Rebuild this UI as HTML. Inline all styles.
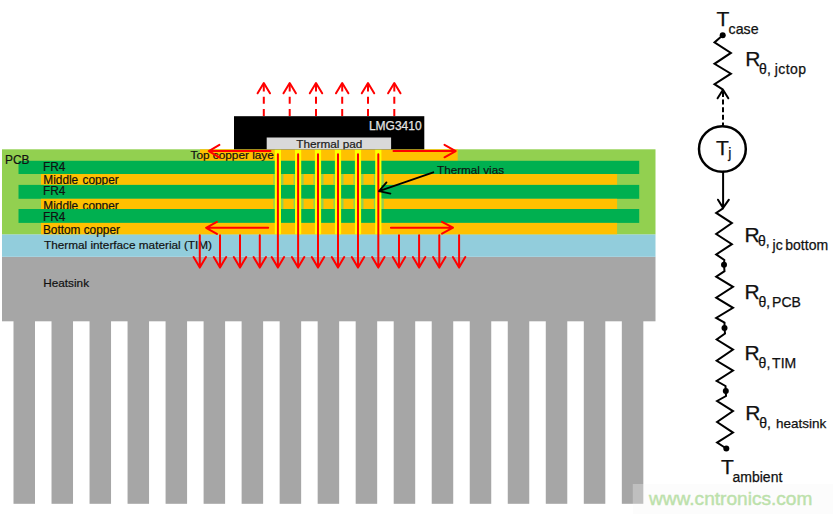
<!DOCTYPE html>
<html><head><meta charset="utf-8"><style>
html,body{margin:0;padding:0;background:#fff;}
svg{display:block;}
text{font-family:"Liberation Sans",sans-serif;}
</style></head><body>
<svg width="833" height="514" viewBox="0 0 833 514">
<rect width="833" height="514" fill="#fff"/>
<rect x="2" y="256.8" width="653.5" height="64.5" fill="#A6A6A6"/>
<rect x="13.50" y="320" width="21.5" height="183.8" fill="#A6A6A6"/>
<rect x="51.52" y="320" width="21.5" height="183.8" fill="#A6A6A6"/>
<rect x="89.54" y="320" width="21.5" height="183.8" fill="#A6A6A6"/>
<rect x="127.56" y="320" width="21.5" height="183.8" fill="#A6A6A6"/>
<rect x="165.58" y="320" width="21.5" height="183.8" fill="#A6A6A6"/>
<rect x="203.60" y="320" width="21.5" height="183.8" fill="#A6A6A6"/>
<rect x="241.62" y="320" width="21.5" height="183.8" fill="#A6A6A6"/>
<rect x="279.64" y="320" width="21.5" height="183.8" fill="#A6A6A6"/>
<rect x="317.66" y="320" width="21.5" height="183.8" fill="#A6A6A6"/>
<rect x="355.68" y="320" width="21.5" height="183.8" fill="#A6A6A6"/>
<rect x="393.70" y="320" width="21.5" height="183.8" fill="#A6A6A6"/>
<rect x="431.72" y="320" width="21.5" height="183.8" fill="#A6A6A6"/>
<rect x="469.74" y="320" width="21.5" height="183.8" fill="#A6A6A6"/>
<rect x="507.76" y="320" width="21.5" height="183.8" fill="#A6A6A6"/>
<rect x="545.78" y="320" width="21.5" height="183.8" fill="#A6A6A6"/>
<rect x="583.80" y="320" width="21.5" height="183.8" fill="#A6A6A6"/>
<rect x="621.82" y="320" width="21.5" height="183.8" fill="#A6A6A6"/>
<text x="43.3" y="286.6" font-size="11.75" font-family="Liberation Sans, sans-serif" fill="#111" stroke="#111" stroke-width="0.2">Heatsink</text>
<rect x="2" y="234.3" width="653.5" height="22.5" fill="#92CDDC"/>
<text x="44" y="248.9" font-size="11.78" font-family="Liberation Sans, sans-serif" fill="#111" stroke="#111" stroke-width="0.2">Thermal interface material (TIM)</text>
<rect x="2" y="149.3" width="653.5" height="85" fill="#92D050"/>

<rect x="200" y="149.3" width="257.7" height="11.5" fill="#FFC000"/>
<text x="190.5" y="158.8" font-size="11.8" font-family="Liberation Sans, sans-serif" fill="#111" stroke="#111" stroke-width="0.2">Top copper laye</text>
<rect x="18.5" y="160.8" width="620.70" height="13.20" fill="#00B050"/>
<clipPath id="cp0"><rect x="0" y="160.8" width="700" height="13.20"/></clipPath>
<text x="43.0" y="171.2" font-size="11.85" font-family="Liberation Sans, sans-serif" fill="#111" stroke="#111" stroke-width="0.2" word-spacing="1" clip-path="url(#cp0)">FR4</text>
<rect x="41" y="174.0" width="576.10" height="10.90" fill="#FFC000"/>
<clipPath id="cp1"><rect x="0" y="174.0" width="700" height="10.90"/></clipPath>
<text x="43.3" y="184.0" font-size="11.85" font-family="Liberation Sans, sans-serif" fill="#111" stroke="#111" stroke-width="0.2" word-spacing="1" clip-path="url(#cp1)">Middle copper</text>
<rect x="18.5" y="184.9" width="620.70" height="13.90" fill="#00B050"/>
<clipPath id="cp2"><rect x="0" y="184.9" width="700" height="13.90"/></clipPath>
<text x="43.0" y="195.4" font-size="11.85" font-family="Liberation Sans, sans-serif" fill="#111" stroke="#111" stroke-width="0.2" word-spacing="1" clip-path="url(#cp2)">FR4</text>
<rect x="41" y="198.8" width="576.10" height="10.20" fill="#FFC000"/>
<clipPath id="cp3"><rect x="0" y="198.8" width="700" height="10.20"/></clipPath>
<text x="43.3" y="209.9" font-size="11.85" font-family="Liberation Sans, sans-serif" fill="#111" stroke="#111" stroke-width="0.2" word-spacing="1" clip-path="url(#cp3)">Middle copper</text>
<rect x="18.5" y="209.0" width="620.70" height="13.90" fill="#00B050"/>
<clipPath id="cp4"><rect x="0" y="209.0" width="700" height="13.90"/></clipPath>
<text x="43.0" y="220.6" font-size="11.85" font-family="Liberation Sans, sans-serif" fill="#111" stroke="#111" stroke-width="0.2" word-spacing="1" clip-path="url(#cp4)">FR4</text>
<rect x="41" y="222.9" width="576.10" height="11.40" fill="#FFC000"/>
<text x="42.9" y="233.7" font-size="11.85" font-family="Liberation Sans, sans-serif" fill="#111" stroke="#111" stroke-width="0.2">Bottom copper</text>
<rect x="273.40" y="174.0" width="10" height="10.90" fill="#92D050"/>
<rect x="273.40" y="198.8" width="10" height="10.20" fill="#92D050"/>
<rect x="293.60" y="174.0" width="10" height="10.90" fill="#92D050"/>
<rect x="293.60" y="198.8" width="10" height="10.20" fill="#92D050"/>
<rect x="313.50" y="174.0" width="10" height="10.90" fill="#92D050"/>
<rect x="313.50" y="198.8" width="10" height="10.20" fill="#92D050"/>
<rect x="333.50" y="174.0" width="10" height="10.90" fill="#92D050"/>
<rect x="333.50" y="198.8" width="10" height="10.20" fill="#92D050"/>
<rect x="353.50" y="174.0" width="10" height="10.90" fill="#92D050"/>
<rect x="353.50" y="198.8" width="10" height="10.20" fill="#92D050"/>
<rect x="373.80" y="174.0" width="10" height="10.90" fill="#92D050"/>
<rect x="373.80" y="198.8" width="10" height="10.20" fill="#92D050"/>
<rect x="274.80" y="149.3" width="6.2" height="85" fill="#FFFF00"/>
<rect x="295.00" y="149.3" width="6.2" height="85" fill="#FFFF00"/>
<rect x="314.90" y="149.3" width="6.2" height="85" fill="#FFFF00"/>
<rect x="334.90" y="149.3" width="6.2" height="85" fill="#FFFF00"/>
<rect x="354.90" y="149.3" width="6.2" height="85" fill="#FFFF00"/>
<rect x="375.20" y="149.3" width="6.2" height="85" fill="#FFFF00"/>
<text x="5" y="163.5" font-size="11.9" font-family="Liberation Sans, sans-serif" fill="#111" stroke="#111" stroke-width="0.2">PCB</text>
<rect x="234" y="116.2" width="190.3" height="33.1" fill="#000"/>
<rect x="266.7" y="137.5" width="124.4" height="11.8" fill="#D9D9D9"/>
<clipPath id="cpp"><rect x="266.7" y="137.5" width="124.4" height="11.8"/></clipPath>
<text x="296.3" y="148.2" font-size="11.78" font-family="Liberation Sans, sans-serif" fill="#222" stroke="#111" stroke-width="0.2" clip-path="url(#cpp)">Thermal pad</text>
<text x="368.9" y="129.8" font-size="12" font-family="Liberation Sans, sans-serif" fill="#e4e4e4" stroke="#e4e4e4" stroke-width="0.25">LMG3410</text>
<text x="437" y="174.4" font-size="11.72" font-family="Liberation Sans, sans-serif" fill="#111" stroke="#111" stroke-width="0.2">Thermal vias</text>
<path d="M199.8 235.2V267.6M193.60 257.10L199.8 267.6L206.00 257.10" stroke="#FF0000" stroke-width="2" fill="none" stroke-linecap="round" stroke-linejoin="round"/>
<path d="M220 235.2V267.6M213.80 257.10L220 267.6L226.20 257.10" stroke="#FF0000" stroke-width="2" fill="none" stroke-linecap="round" stroke-linejoin="round"/>
<path d="M240 235.2V267.6M233.80 257.10L240 267.6L246.20 257.10" stroke="#FF0000" stroke-width="2" fill="none" stroke-linecap="round" stroke-linejoin="round"/>
<path d="M259.8 235.2V267.6M253.60 257.10L259.8 267.6L266.00 257.10" stroke="#FF0000" stroke-width="2" fill="none" stroke-linecap="round" stroke-linejoin="round"/>
<path d="M399 235.2V267.6M392.80 257.10L399 267.6L405.20 257.10" stroke="#FF0000" stroke-width="2" fill="none" stroke-linecap="round" stroke-linejoin="round"/>
<path d="M419.1 235.2V267.6M412.90 257.10L419.1 267.6L425.30 257.10" stroke="#FF0000" stroke-width="2" fill="none" stroke-linecap="round" stroke-linejoin="round"/>
<path d="M439.3 235.2V267.6M433.10 257.10L439.3 267.6L445.50 257.10" stroke="#FF0000" stroke-width="2" fill="none" stroke-linecap="round" stroke-linejoin="round"/>
<path d="M459.1 235.2V267.6M452.90 257.10L459.1 267.6L465.30 257.10" stroke="#FF0000" stroke-width="2" fill="none" stroke-linecap="round" stroke-linejoin="round"/>
<path d="M277.9 154.2V267.6M271.70 257.10L277.9 267.6L284.10 257.10" stroke="#FF0000" stroke-width="2" fill="none" stroke-linecap="round" stroke-linejoin="round"/>
<path d="M298.1 154.2V267.6M291.90 257.10L298.1 267.6L304.30 257.10" stroke="#FF0000" stroke-width="2" fill="none" stroke-linecap="round" stroke-linejoin="round"/>
<path d="M318.0 154.2V267.6M311.80 257.10L318.0 267.6L324.20 257.10" stroke="#FF0000" stroke-width="2" fill="none" stroke-linecap="round" stroke-linejoin="round"/>
<path d="M338.0 154.2V267.6M331.80 257.10L338.0 267.6L344.20 257.10" stroke="#FF0000" stroke-width="2" fill="none" stroke-linecap="round" stroke-linejoin="round"/>
<path d="M358.0 154.2V267.6M351.80 257.10L358.0 267.6L364.20 257.10" stroke="#FF0000" stroke-width="2" fill="none" stroke-linecap="round" stroke-linejoin="round"/>
<path d="M378.3 154.2V267.6M372.10 257.10L378.3 267.6L384.50 257.10" stroke="#FF0000" stroke-width="2" fill="none" stroke-linecap="round" stroke-linejoin="round"/>
<path d="M270.5 151.1H208.8M219.4 144.9L208.8 151.1L219.4 157.4" stroke="#FF0000" stroke-width="2" fill="none" stroke-linecap="round" stroke-linejoin="round"/>
<path d="M393.5 151.1H455.7M444.5 144.8L455.7 151.1L444.5 157.3" stroke="#FF0000" stroke-width="2" fill="none" stroke-linecap="round" stroke-linejoin="round"/>
<path d="M268.2 227.8H206.1M216.9 221.8L206.1 227.8L216.9 233.9" stroke="#FF0000" stroke-width="2" fill="none" stroke-linecap="round" stroke-linejoin="round"/>
<path d="M390.9 227.7H453M442 221.8L453 227.7L442 233.6" stroke="#FF0000" stroke-width="2" fill="none" stroke-linecap="round" stroke-linejoin="round"/>
<path d="M263.8 116V84" stroke="#FF0000" stroke-width="2" stroke-dasharray="7 5.3" fill="none"/>
<path d="M257.60 93.3L263.8 83L270.00 93.3" stroke="#FF0000" stroke-width="2" fill="none" stroke-linecap="round" stroke-linejoin="round"/>
<path d="M289.7 116V84" stroke="#FF0000" stroke-width="2" stroke-dasharray="7 5.3" fill="none"/>
<path d="M283.50 93.3L289.7 83L295.90 93.3" stroke="#FF0000" stroke-width="2" fill="none" stroke-linecap="round" stroke-linejoin="round"/>
<path d="M316 116V84" stroke="#FF0000" stroke-width="2" stroke-dasharray="7 5.3" fill="none"/>
<path d="M309.80 93.3L316 83L322.20 93.3" stroke="#FF0000" stroke-width="2" fill="none" stroke-linecap="round" stroke-linejoin="round"/>
<path d="M342.2 116V84" stroke="#FF0000" stroke-width="2" stroke-dasharray="7 5.3" fill="none"/>
<path d="M336.00 93.3L342.2 83L348.40 93.3" stroke="#FF0000" stroke-width="2" fill="none" stroke-linecap="round" stroke-linejoin="round"/>
<path d="M368 116V84" stroke="#FF0000" stroke-width="2" stroke-dasharray="7 5.3" fill="none"/>
<path d="M361.80 93.3L368 83L374.20 93.3" stroke="#FF0000" stroke-width="2" fill="none" stroke-linecap="round" stroke-linejoin="round"/>
<path d="M394.3 116V84" stroke="#FF0000" stroke-width="2" stroke-dasharray="7 5.3" fill="none"/>
<path d="M388.10 93.3L394.3 83L400.50 93.3" stroke="#FF0000" stroke-width="2" fill="none" stroke-linecap="round" stroke-linejoin="round"/>
<path d="M433.3 172.3L379 191.2M386.5 182.4L379 191.2L390.4 193.6" stroke="#000" stroke-width="1.8" fill="none" stroke-linecap="round" stroke-linejoin="round"/>
<circle cx="722.7" cy="35.2" r="3" fill="#000"/>
<path d="M722.7 35.2 L714.5 42.4 L730.9 52.9 L714.5 63.8 L730.9 73.7 L714.5 84.2 L723 89.6" stroke="#000" stroke-width="2" fill="none" stroke-linejoin="miter"/>
<path d="M717.6 98.3L723 89.8L728.3 98.3" stroke="#000" stroke-width="2" fill="none" stroke-linejoin="round" stroke-linecap="round"/>
<path d="M723 92V125.5" stroke="#000" stroke-width="2" stroke-dasharray="5 2.6" fill="none"/>
<ellipse cx="722.4" cy="149" rx="23.4" ry="22.8" stroke="#000" stroke-width="2.5" fill="none"/>
<path d="M723.1 171.7V207.5M718 199.7L723.1 207.9L728.9 199.7" stroke="#000" stroke-width="2" fill="none" stroke-linejoin="round" stroke-linecap="round"/>
<path d="M723.4 208.2 L716.2 212.9 L731.9 223.1 L716.2 234 L731.9 244.2 L716.2 254.4 L724.3 259.9 L724 264.8" stroke="#000" stroke-width="2" fill="none"/>
<circle cx="724" cy="264.8" r="3" fill="#000"/>
<path d="M724 264.8 L724.5 271.2 L716.2 276.7 L733 286.8 L716.2 297.7 L733 307.8 L716.2 317.9 L724.5 322.6 L724.5 328" stroke="#000" stroke-width="2" fill="none"/>
<circle cx="724.5" cy="328" r="3" fill="#000"/>
<path d="M724.5 328 L725 333.5 L716.7 339.5 L733 349.6 L716.7 360.8 L733 370.6 L716.7 381 L725.5 386 L725.8 391" stroke="#000" stroke-width="2" fill="none"/>
<circle cx="725.8" cy="391" r="3" fill="#000"/>
<path d="M725.8 391 L726 396 L717.1 401 L733 411.1 L717.1 422 L733 432.6 L717.1 442.6 L726.3 448.5" stroke="#000" stroke-width="2" fill="none"/>
<circle cx="726.3" cy="448.5" r="3" fill="#000"/>
<text x="716.4" y="25.7" font-size="21" font-family="Liberation Sans, sans-serif" fill="#111" stroke="#111" stroke-width="0.25" >T</text>
<text x="728.6" y="33.9" font-size="14.2" font-family="Liberation Sans, sans-serif" fill="#111" stroke="#111" stroke-width="0.25" >case</text>
<text x="716.1" y="155.1" font-size="21" font-family="Liberation Sans, sans-serif" fill="#111" stroke="#111" stroke-width="0.25" >T</text>
<text x="728.35" y="157.8" font-size="14" font-family="Liberation Sans, sans-serif" fill="#111" stroke="#111" stroke-width="0.25" >j</text>
<text x="720.9" y="474" font-size="21" font-family="Liberation Sans, sans-serif" fill="#111" stroke="#111" stroke-width="0.25" >T</text>
<text x="732.5" y="481.5" font-size="14" font-family="Liberation Sans, sans-serif" fill="#111" stroke="#111" stroke-width="0.25" >ambient</text>
<text x="745.2" y="66.2" font-size="21" font-family="Liberation Sans, sans-serif" fill="#111" stroke="#111" stroke-width="0.25" >R</text>
<text x="759.1" y="74.4" font-size="14" font-family="Liberation Sans, sans-serif" fill="#111" stroke="#111" stroke-width="0.25" >θ,</text>
<text x="774.85" y="73.9" font-size="14" font-family="Liberation Sans, sans-serif" fill="#111" stroke="#111" stroke-width="0.25" letter-spacing="0.4">jctop</text>
<text x="744.5" y="242.3" font-size="21" font-family="Liberation Sans, sans-serif" fill="#111" stroke="#111" stroke-width="0.25" >R</text>
<text x="758.0" y="245.5" font-size="14" font-family="Liberation Sans, sans-serif" fill="#111" stroke="#111" stroke-width="0.25" >θ,</text>
<text x="772.55" y="250.4" font-size="14" font-family="Liberation Sans, sans-serif" fill="#111" stroke="#111" stroke-width="0.25" >jc</text>
<text x="785.3" y="250.4" font-size="14" font-family="Liberation Sans, sans-serif" fill="#111" stroke="#111" stroke-width="0.25" >bottom</text>
<text x="744.4" y="298.8" font-size="21" font-family="Liberation Sans, sans-serif" fill="#111" stroke="#111" stroke-width="0.25" >R</text>
<text x="758.5" y="307.0" font-size="14" font-family="Liberation Sans, sans-serif" fill="#111" stroke="#111" stroke-width="0.25" >θ,</text>
<text x="772.1" y="307.0" font-size="14" font-family="Liberation Sans, sans-serif" fill="#111" stroke="#111" stroke-width="0.25" >PCB</text>
<text x="744.4" y="359.8" font-size="21" font-family="Liberation Sans, sans-serif" fill="#111" stroke="#111" stroke-width="0.25" >R</text>
<text x="758.6" y="368.3" font-size="14" font-family="Liberation Sans, sans-serif" fill="#111" stroke="#111" stroke-width="0.25" >θ,</text>
<text x="772.1" y="367.9" font-size="14" font-family="Liberation Sans, sans-serif" fill="#111" stroke="#111" stroke-width="0.25" >TIM</text>
<text x="745.2" y="420.1" font-size="21" font-family="Liberation Sans, sans-serif" fill="#111" stroke="#111" stroke-width="0.25" >R</text>
<text x="759.2" y="428.3" font-size="14" font-family="Liberation Sans, sans-serif" fill="#111" stroke="#111" stroke-width="0.25" >θ,</text>
<text x="775.9" y="428.2" font-size="13.5" font-family="Liberation Sans, sans-serif" fill="#111" stroke="#111" stroke-width="0.25" >heatsink</text>
<rect x="632.8" y="484" width="200.2" height="30" fill="rgba(245,245,245,0.32)"/>
<text x="649" y="504.6" font-size="19.1" font-family="Liberation Sans, sans-serif" fill="#BCE1AB" stroke="#BCE1AB" stroke-width="0.45">www.cntronics.com</text>
</svg>
</body></html>
